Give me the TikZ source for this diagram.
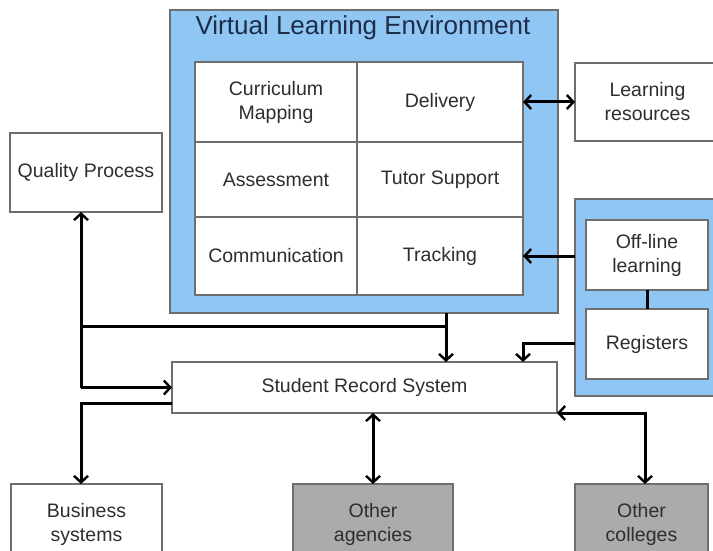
\documentclass[tikz,border=0pt]{standalone}
\usepackage{fontspec}
\setmainfont{Liberation Sans}
\usetikzlibrary{arrows.meta}
\definecolor{vleblue}{HTML}{8FC6F4}
\definecolor{boxgray}{HTML}{ABABAB}
\definecolor{edgegray}{HTML}{6E6E6E}
\definecolor{titlenavy}{HTML}{1E2D48}
\definecolor{txtgray}{HTML}{2E2E2E}
\begin{document}
\begin{tikzpicture}[x=1pt,y=-1pt,
  bx/.style={draw=edgegray,line width=1.4pt,fill=white,inner sep=0pt,outer sep=0pt,
    align=center,text=txtgray,font=\fontsize{19.5}{24}\selectfont},
  grp/.style={draw=edgegray,line width=1.4pt,fill=vleblue,inner sep=0pt,outer sep=0pt},
  gbx/.style={bx,fill=boxgray},
  conn/.style={line width=3pt,black},
  tip/.style={-{Straight Barb[length=6.5pt,width=14pt,line width=2.4pt]}},
  tips/.style={{Straight Barb[length=6.5pt,width=14pt,line width=2.4pt]}-{Straight Barb[length=6.5pt,width=14pt,line width=2.4pt]}}
]
\useasboundingbox (0,0) rectangle (713,551);
\clip (0,0) rectangle (713,551);
\fill[white] (0,0) rectangle (713,551);
% VLE group
\node[grp,minimum width=388pt,minimum height=303pt] (vle) at (364,161.5) {};
\node[text=titlenavy,font=\fontsize{26}{30}\selectfont,inner sep=0pt] (vlet) at (363,28) {Virtual Learning Environment};
\node[bx,minimum width=162pt,minimum height=80pt] (cm) at (276,102) {Curriculum\\Mapping};
\node[bx,minimum width=166pt,minimum height=80pt] (del) at (440,102) {Delivery};
\node[bx,minimum width=162pt,minimum height=75pt] (ass) at (276,179.5) {Assessment};
\node[bx,minimum width=166pt,minimum height=75pt] (tut) at (440,179.5) {Tutor Support};
\node[bx,minimum width=162pt,minimum height=78pt] (com) at (276,256) {Communication};
\node[bx,minimum width=166pt,minimum height=78pt] (trk) at (440,256) {Tracking};
% Off-line group
\node[grp,minimum width=150pt,minimum height=197pt] (offg) at (650,297.5) {};
\node[bx,minimum width=122pt,minimum height=70pt] (off) at (647,255) {Off-line\\learning};
\node[bx,minimum width=122pt,minimum height=70pt] (reg) at (647,344) {Registers};
% Other boxes
\node[bx,minimum width=152pt,minimum height=79pt] (qp) at (86,172.5) {Quality Process};
\node[bx,minimum width=145pt,minimum height=78pt] (lr) at (647.5,102) {Learning\\resources};
\node[bx,minimum width=385pt,minimum height=51pt] (srs) at (364.5,387.5) {Student Record System};
\node[bx,minimum width=151pt,minimum height=80pt] (bus) at (86.5,524) {Business\\systems};
\node[gbx,minimum width=160pt,minimum height=80pt] (age) at (373,524) {Other\\agencies};
\node[gbx,minimum width=133pt,minimum height=80pt] (col) at (641.5,524) {Other\\colleges};
% coordinates
\coordinate (j1) at (81,326);
\coordinate (j2) at (446,326);
\coordinate (r1) at (523,343);
\coordinate (b1) at (81,403);
\coordinate (c1) at (645,413);
% connectors
\draw[conn,tips] (del.east) -- (lr.west);
\draw[conn,tip] (offg.west |- trk.east) -- (trk.east);
\draw[conn] (off.south) -- (reg.north);
\draw[conn,tip] (offg.west |- r1) -- (r1) -- (r1 |- srs.north);
\draw[conn,tip] (j2 |- vle.south) -- (j2 |- srs.north);
\draw[conn] (j1) -- (j2);
\draw[conn,tip] (j1 |- srs.west) -- (srs.west);
\draw[conn,tip] (j1 |- srs.west) -- (j1 |- qp.south);
\draw[conn,tip] (srs.west |- b1) -- (b1) -- (b1 |- bus.north);
\draw[conn,tips] (age.north |- srs.south) -- (age.north);
\draw[conn,tips] (srs.south east) -- (c1) -- (c1 |- col.north);
\end{tikzpicture}
\end{document}
